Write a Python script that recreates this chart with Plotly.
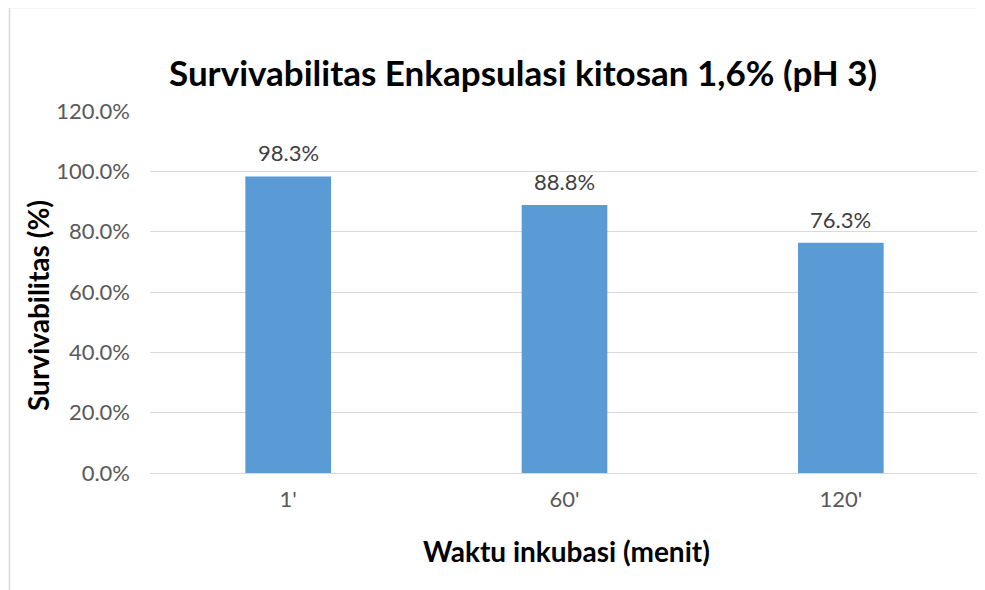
import plotly.graph_objects as go

# data
kategori = ["1'", "60'", "120'"]
survivabilitas = [0.983, 0.888, 0.763]
label_nilai = ["98.3%", "88.8%", "76.3%"]

# the page puts the figure 8px in from the top-left, so work in shifted pixels
OFF = 8
W, H = 985, 590 - OFF
L, R, T, B = 150 - OFF, 14, 111 - OFF, 117
pw, ph = W - L - R, H - T - B


def px_x(x):
    return (x - OFF - L) / pw


def px_y(y):
    return (H - B - (y - OFF)) / ph


fig = go.Figure()
fig.add_trace(go.Bar(
    x=kategori, y=survivabilitas,
    marker=dict(color="#5b9bd5", line=dict(width=0)),
    width=0.31,
))

# value labels above each bar
for k, v, t in zip(kategori, survivabilitas, label_nilai):
    fig.add_annotation(x=k, y=v, text=t, showarrow=False, yanchor="bottom",
                       yshift=8, font=dict(family="Lato", size=22, color="#404040"))

titles = dict(xref="paper", yref="paper", showarrow=False,
              xanchor="center", yanchor="middle")
fig.add_annotation(x=px_x(523), y=px_y(72),
                   text="<b>Survivabilitas Enkapsulasi kitosan 1,6% (pH 3)</b>",
                   font=dict(family="Lato", size=35, color="#000000"), **titles)
fig.add_annotation(x=px_x(566), y=px_y(551),
                   text="<b>Waktu inkubasi (menit)</b>",
                   font=dict(family="Lato", size=28, color="#000000"), **titles)
fig.add_annotation(x=px_x(38), y=px_y(306),
                   text="<b>Survivabilitas (%)</b>", textangle=-90,
                   font=dict(family="Lato", size=28, color="#000000"), **titles)

# chart border (only top and left are inside the crop)
fig.add_shape(type="rect", xref="paper", yref="paper",
              x0=px_x(9.5), y0=px_y(620), x1=px_x(1010), y1=px_y(7.5),
              line=dict(color="#d9d9d9", width=1.5), fillcolor="rgba(0,0,0,0)", layer="below")

fig.update_layout(
    width=W, height=H,
    margin=dict(l=L, r=R, t=T, b=B),
    paper_bgcolor="white", plot_bgcolor="white",
    showlegend=False,
    font=dict(family="Lato", size=22, color="#595959"),
    xaxis=dict(showgrid=False, showline=False, ticks="", ticklabelstandoff=11,
               tickfont=dict(size=22, color="#595959")),
    yaxis=dict(range=[0, 1.2], dtick=0.2, tickformat=".1%",
               showgrid=True, gridcolor="#d9d9d9", gridwidth=1,
               zeroline=True, zerolinecolor="#d9d9d9", zerolinewidth=1,
               showline=False, ticks="", ticklabelstandoff=19,
               tickfont=dict(size=22, color="#595959")),
)

fig.write_html("out.html")
